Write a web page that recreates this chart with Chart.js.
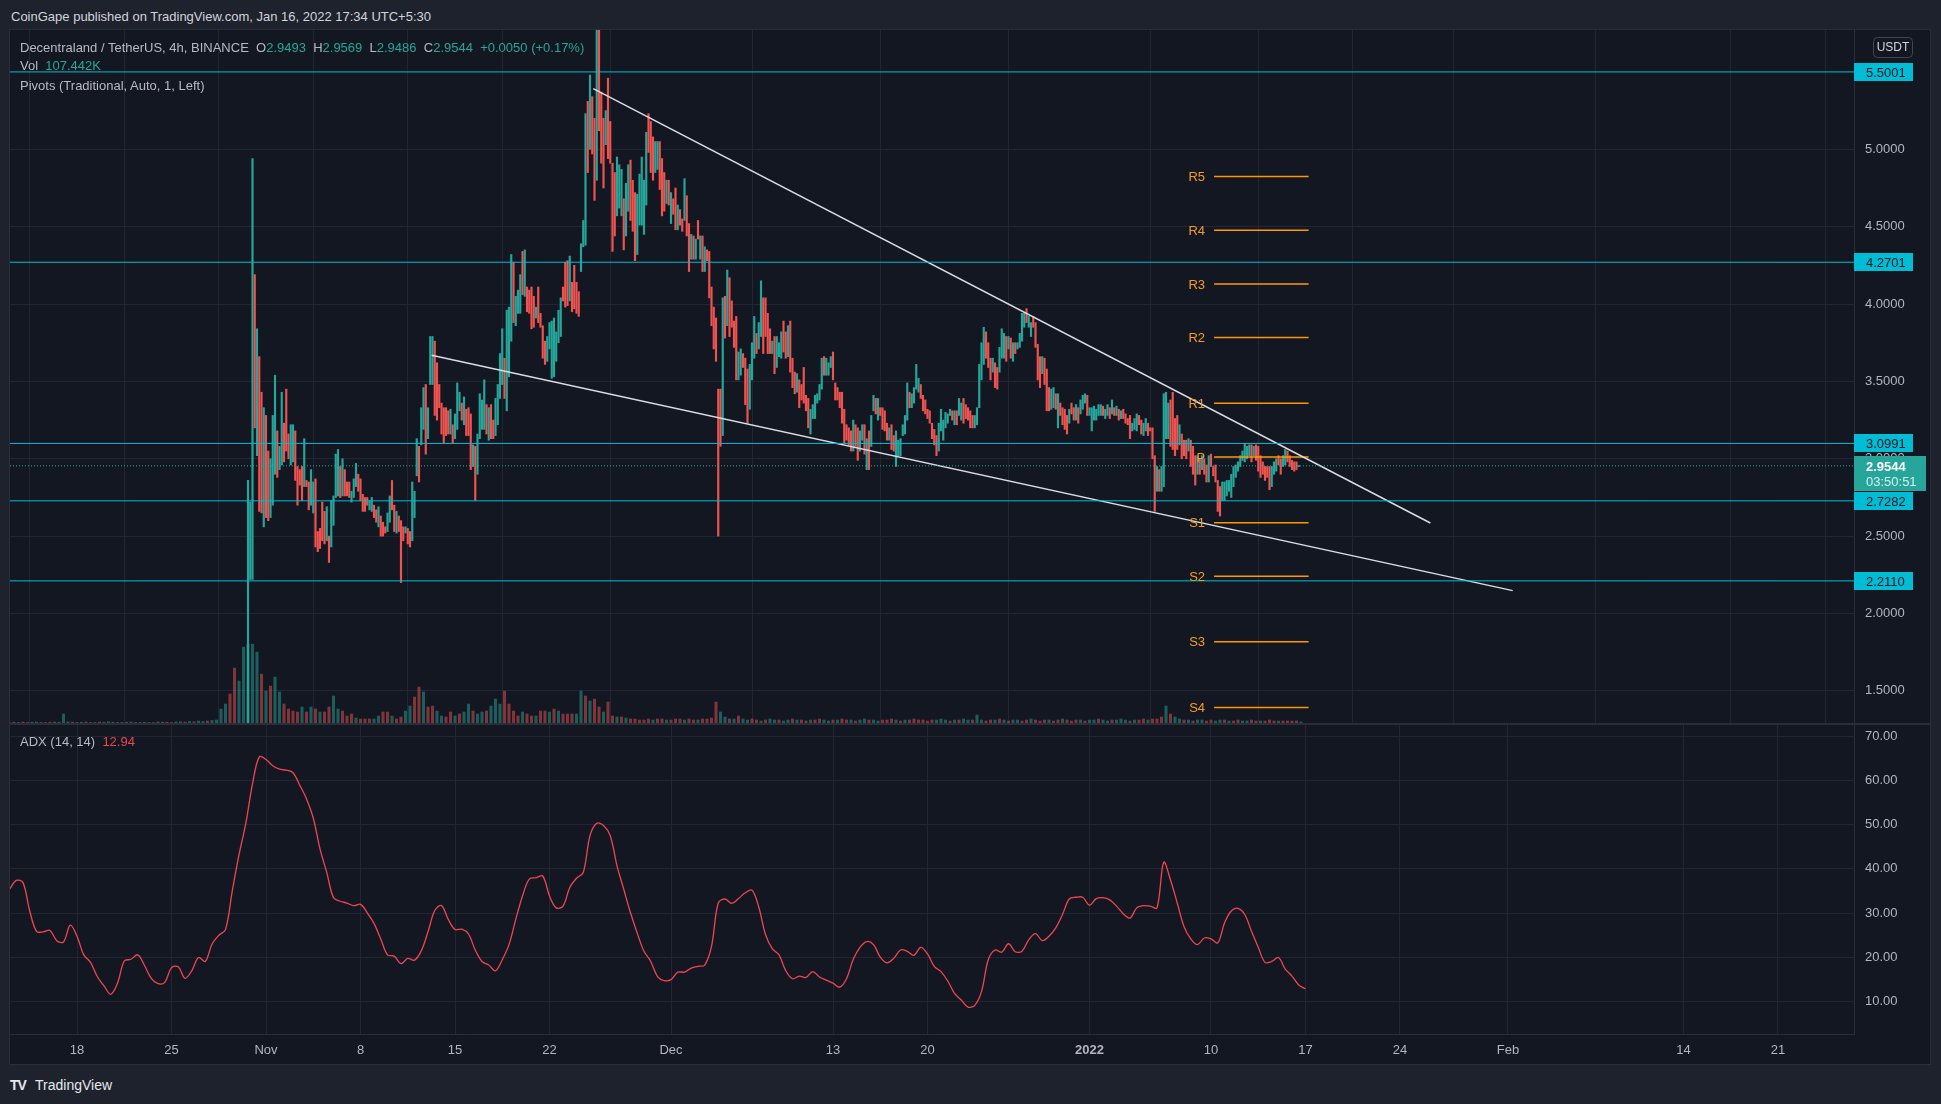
<!DOCTYPE html>
<html>
<head>
<meta charset="utf-8">
<script src="https://cdn.jsdelivr.net/npm/chart.js@4.4.1/dist/chart.umd.min.js"></script>
<style>
  body { margin: 0; width: 1941px; height: 1104px; overflow: hidden; background: #1e222d;
         font-family: "Liberation Sans", Arial, sans-serif; }
  canvas { position: absolute; left: 10px; background: #131722; }
  #priceCanvas { top: 30px; }
  #adxCanvas { top: 724px; }
  #frame { position: absolute; left: 9px; top: 29px; width: 1920px; height: 1034px; border: 1px solid #2a2e39; }
  #sep { position: absolute; left: 10px; top: 723px; width: 1920px; height: 2px; background: #2a2e39; }
  .t { position: absolute; white-space: pre; font-size: 13px; line-height: 16px; color: #b7bac3; }
  .up { color: #26a69a; }
  .red { color: #f0454f; }
</style>
</head>
<body>
<canvas id="priceCanvas" width="1920" height="694"></canvas>
<canvas id="adxCanvas" width="1920" height="340"></canvas>
<div id="frame"></div>
<div id="sep"></div>
<div class="t" style="left:11px;top:9px;color:#d1d4dc">CoinGape published on TradingView.com, Jan 16, 2022 17:34 UTC+5:30</div>
<div class="t" id="legendMain" style="left:20px;top:40px"></div>
<div class="t" id="legendVol" style="left:20px;top:58px"></div>
<div class="t" style="left:20px;top:78px">Pivots (Traditional, Auto, 1, Left)</div>
<div class="t" id="legendAdx" style="left:20px;top:734px"></div>
<div class="t" style="left:10px;top:1077px;color:#e6e8ee;font-size:14px;font-weight:bold;letter-spacing:-1px">TV</div>
<div class="t" style="left:35px;top:1077px;color:#e6e8ee;font-size:14px">TradingView</div>
<script>
// ---- time helpers (days since 18 Oct 2021, chart shown in UTC+5:30) ----
const DAY0 = Date.UTC(2021, 9, 18);
const toDay = s => (Date.parse(s + ':00Z') - DAY0) / 864e5;

// ---- axes ----
const viewFrom = '2021-10-13T00:53';
const viewTo = '2022-02-26T15:07';
const tickDates = ['2021-10-18T00:00', '2021-10-25T00:00', '2021-11-01T00:00', '2021-11-08T00:00',
  '2021-11-15T00:00', '2021-11-22T00:00', '2021-12-01T00:00', '2021-12-13T00:00', '2021-12-20T00:00',
  '2022-01-01T00:00', '2022-01-10T00:00', '2022-01-17T00:00', '2022-01-24T00:00', '2022-02-01T00:00',
  '2022-02-14T00:00', '2022-02-21T00:00'];
const tickLabels = ['18', '25', 'Nov', '8', '15', '22', 'Dec', '13', '20', '2022', '10', '17', '24', 'Feb', '14', '21'];
const priceTicks = [1.5, 2, 2.5, 3, 3.5, 4, 4.5, 5];
const priceMin = 1.286, priceMax = 5.771;
const adxTicks = [10, 20, 30, 40, 50, 60, 70];
const adxMin = 2.73, adxMax = 72.71;

// ---- MANA/USDT 4h candles (high, low, direction G=up R=down) ----
const candleStart = '2021-10-30T16:00';
const candleStepH = 4;
const candleHigh = [
  2.86,2.72,4.94,4.19,3.84,3.66,3.43,3.33,3.28,3.05,
  3.00,3.28,3.54,3.18,3.08,3.43,3.23,3.45,3.16,3.22,
  3.22,3.18,2.95,2.93,2.95,3.13,2.86,2.85,2.93,2.85,
  2.87,2.53,2.55,2.72,2.66,2.69,2.50,2.73,2.76,3.03,
  3.06,2.95,3.00,2.93,2.85,2.85,2.79,2.87,2.97,2.90,
  2.87,2.77,2.75,2.75,2.73,2.75,2.70,2.67,2.69,2.63,
  2.59,2.56,2.65,2.76,2.86,2.70,2.66,2.63,2.60,2.56,
  2.56,2.55,2.53,2.85,2.79,3.13,3.08,3.33,3.46,3.48,
  3.33,3.79,3.79,3.76,3.62,3.48,3.36,3.33,3.33,3.31,
  3.32,3.22,3.29,3.49,3.43,3.36,3.40,3.32,3.33,3.29,
  3.09,3.08,3.16,3.42,3.38,3.51,3.35,3.33,3.35,3.25,
  3.39,3.48,3.68,3.84,3.65,3.96,3.98,4.32,4.27,4.05,
  4.09,4.19,4.34,4.35,4.11,4.09,4.11,4.05,3.98,4.11,
  3.94,3.86,3.76,3.79,3.88,3.89,3.91,3.82,3.96,4.04,
  4.11,4.27,4.28,4.31,4.14,4.25,4.14,4.08,4.39,4.54,
  5.23,5.31,5.48,5.34,5.20,5.90,
  5.85,5.37,5.20,5.25,5.46,5.18,4.91,4.85,4.95,4.90,
  4.87,4.68,4.78,4.90,4.93,4.80,4.72,4.71,4.84,4.95,
  4.80,5.11,5.23,5.18,5.08,5.05,5.05,5.05,4.94,4.85,
  4.80,4.80,4.72,4.68,4.75,4.64,4.61,4.55,4.81,4.70,
  4.52,4.45,4.44,4.42,4.54,4.44,4.44,4.37,4.35,4.34,
  4.11,3.98,3.91,3.45,3.45,4.04,4.05,4.22,4.17,4.02,
  3.89,3.92,3.69,3.71,3.68,3.65,3.58,3.61,3.75,3.92,
  3.81,3.88,4.15,4.04,4.04,3.94,3.84,3.76,3.79,3.79,
  3.75,3.82,3.89,3.82,3.86,3.89,3.65,3.56,3.55,3.51,
  3.48,3.59,3.41,3.39,3.32,3.35,3.41,3.42,3.48,3.65,
  3.66,3.65,3.62,3.66,3.69,3.49,3.46,3.43,3.43,3.32,
  3.22,3.20,3.18,3.25,3.22,3.20,3.18,3.22,3.22,3.13,
  3.18,3.28,3.41,3.39,3.39,3.33,3.33,3.31,3.23,3.20,
  3.22,3.15,3.18,3.12,3.13,3.22,3.28,3.49,3.43,3.42,
  3.46,3.61,3.52,3.48,3.41,3.38,3.32,3.31,3.23,3.19,
  3.15,3.23,3.32,3.25,3.30,3.29,3.32,3.31,3.31,3.31,
  3.39,3.36,3.39,3.35,3.33,3.31,3.28,3.28,3.33,3.61,
  3.75,3.85,3.82,3.75,3.65,3.65,3.62,3.59,3.72,3.84,
  3.81,3.79,3.79,3.78,3.75,3.75,3.75,3.81,3.94,3.94,
  3.97,3.92,3.88,3.92,3.88,3.74,3.66,3.66,3.65,3.58,
  3.46,3.45,3.46,3.42,3.42,3.36,3.33,3.32,3.28,3.32,
  3.36,3.33,3.35,3.33,3.38,3.41,3.42,3.41,3.33,3.33,3.34,
  3.32,3.35,3.35,3.34,3.32,3.35,3.33,
  3.38,3.33,3.34,3.32,3.31,3.32,3.29,3.26,3.28,3.23,3.26,3.29,3.28,3.25,3.23,3.26,
  3.23,3.20,3.20,3.02,2.95,2.93,2.95,3.42,3.43,3.36,3.38,3.43,3.26,3.28,3.22,3.16,
  3.12,3.12,3.13,3.12,3.08,3.02,3.02,3.00,
  3.02,3.00,2.96,3.02,3.03,
  2.95,2.96,2.86,2.82,2.85,2.85,2.86,2.86,
  2.90,2.95,2.96,2.98,
  3.02,3.05,3.10,3.08,3.09,3.09,3.08,
  3.09,3.08,3.02,2.98,2.95,2.95,2.95,2.95,2.98,3.00,3.02,
  3.00,3.02,3.06,3.05,
  3.02,2.99,2.98,2.98,2.957
];
const candleLow = [
  1.10,2.22,2.22,3.20,3.02,2.66,2.65,2.56,2.62,2.60,
  2.62,2.70,2.90,2.88,2.93,2.96,2.98,3.05,3.00,2.96,
  2.98,2.86,2.70,2.83,2.73,2.82,2.82,2.67,2.70,2.65,
  2.43,2.40,2.42,2.47,2.45,2.47,2.33,2.43,2.57,2.75,
  2.76,2.75,2.76,2.76,2.76,2.75,2.72,2.75,2.82,2.79,
  2.73,2.66,2.66,2.70,2.67,2.66,2.62,2.59,2.56,2.50,
  2.50,2.52,2.53,2.59,2.67,2.53,2.52,2.53,2.20,2.47,
  2.52,2.45,2.43,2.47,2.62,2.89,2.85,3.09,3.19,3.03,
  3.13,3.48,3.48,3.28,3.25,3.33,3.16,3.10,3.15,3.16,
  3.16,3.10,3.13,3.19,3.31,3.25,3.22,3.15,3.15,2.93,
  2.95,2.73,2.90,3.13,3.19,3.19,3.16,3.12,3.13,3.13,
  3.15,3.22,3.39,3.48,3.39,3.31,3.53,3.76,3.88,3.86,
  3.94,3.94,4.06,4.05,3.95,3.94,3.84,3.85,3.91,3.88,
  3.85,3.65,3.61,3.63,3.71,3.52,3.53,3.63,3.75,3.79,
  4.02,3.98,3.99,4.02,3.95,3.97,3.94,3.92,4.21,4.37,
  4.38,4.85,5.00,4.97,4.67,4.80,
  5.12,4.91,4.75,5.03,4.94,4.91,4.34,4.44,4.57,4.62,
  4.57,4.35,4.44,4.60,4.54,4.47,4.28,4.32,4.51,4.51,
  4.45,4.64,4.98,4.85,4.80,4.85,4.87,4.74,4.57,4.60,
  4.65,4.64,4.52,4.58,4.48,4.48,4.51,4.47,4.54,4.44,
  4.21,4.29,4.29,4.29,4.42,4.29,4.21,4.21,4.28,4.04,
  3.86,3.71,3.63,2.50,3.08,3.15,3.78,3.86,3.79,3.85,
  3.72,3.51,3.51,3.54,3.59,3.35,3.23,3.32,3.51,3.65,
  3.68,3.71,3.79,3.68,3.79,3.68,3.68,3.68,3.55,3.59,
  3.66,3.65,3.69,3.65,3.66,3.56,3.46,3.42,3.43,3.33,
  3.38,3.36,3.31,3.20,3.16,3.26,3.26,3.36,3.38,3.45,
  3.54,3.54,3.54,3.59,3.51,3.38,3.38,3.33,3.23,3.10,
  3.12,3.09,3.05,3.05,3.08,2.99,3.05,3.12,3.03,2.93,
  2.93,3.08,3.31,3.29,3.25,3.28,3.19,3.18,3.12,3.12,
  3.06,3.05,2.95,3.02,3.02,3.15,3.16,3.25,3.33,3.33,
  3.36,3.45,3.43,3.39,3.31,3.29,3.26,3.23,3.13,3.09,
  3.02,3.05,3.18,3.12,3.20,3.23,3.28,3.25,3.22,3.22,
  3.28,3.25,3.23,3.26,3.25,3.20,3.20,3.20,3.22,3.33,
  3.51,3.61,3.65,3.59,3.51,3.56,3.46,3.45,3.56,3.65,
  3.65,3.63,3.71,3.65,3.63,3.68,3.71,3.72,3.76,3.85,
  3.88,3.85,3.79,3.85,3.72,3.51,3.46,3.55,3.48,3.31,
  3.31,3.32,3.33,3.32,3.20,3.28,3.22,3.19,3.16,3.23,
  3.29,3.25,3.25,3.23,3.29,3.32,3.36,3.28,3.28,3.18,3.25,
  3.25,3.28,3.28,3.28,3.26,3.28,3.26,
  3.29,3.28,3.28,3.25,3.26,3.26,3.23,3.22,3.13,3.18,3.19,3.18,3.22,3.16,3.15,3.18,
  3.15,3.18,3.00,2.66,2.79,2.79,2.79,2.82,3.13,3.13,3.08,3.06,3.02,3.06,3.09,3.00,
  3.02,3.00,3.05,2.95,2.90,2.83,2.90,2.90,
  2.93,2.90,2.85,2.85,2.95,
  2.89,2.85,2.66,2.63,2.73,2.73,2.76,2.79,
  2.75,2.82,2.88,2.92,
  2.95,2.99,2.98,3.00,3.02,2.98,3.02,
  2.99,2.92,2.88,2.90,2.86,2.88,2.80,2.82,2.90,2.92,2.96,
  2.90,2.95,2.96,2.98,
  2.95,2.93,2.92,2.93,2.949
];
const candleDir =
  'GGGRGRRGRR' + 'GGGRGGRRRG' + 'GRRRRGRRGG' + 'RRRRRGRGGG' + 'GRGRRRGGGR' + 'RRRRGGRRGR' +
  'RRGGRRGRRR' + 'GRRGGGRGGR' + 'GGGRRRRRRR' + 'GRGGGRGRRR' + 'GRGGGGRGRR' + 'GGGGRGGGRG' +
  'GGRGRRRRGR' + 'RRRGGGGGGG' + 'RRRGRRRRGG' + 'GRGRRG' +
  'RRRGRRRRGG' + 'GRGGRRRGGG' + 'GGRRRGGRRR' + 'GRGRRGRRGR' + 'RGRGRGRGRR' + 'RRRRRGRGRR' +
  'RRGGRRRGGG' + 'RGGRRRRGRG' + 'GGRRGRRRGR' + 'RRRRGGG' + 'GGGRG' + 'GGRRRRRRRRRGRRGG' +
  'RGRGGRGRRRRGRRG' + 'GGGGGRGGGGRRRRRRRRGGGGGGRGR' +
  'GGRRRRRGGG' + 'GGRRRGRRGG' + 'GRGRGRGGGG' + 'RGGRRRRGRR' + 'RGGRGRRRRG' + 'RRGRGGGRGGG' +
  'GGGRGGR' + 'GRGRGRRRRGGGRRGG' + 'RRRRGRGGGGRRRRGR' + 'RRGRRRGR' + 'GRRGR' + 'RRRRGGGG' +
  'GGGG' + 'GGGGGRG' + 'RRRRRRRGGGR' + 'RGGR' + 'RRRRG';
const lastOHLC = [2.9493, 2.9569, 2.9486, 2.9544];
const lastChange = '+0.0050 (+0.17%)';
const lastVolume = '107.442K';
const countdown = '03:50:51';

// ---- volume, 8h buckets (millions) ----
const volStart = '2021-10-13T00:00';
const volStepH = 8;
const volumes = [
  1.5,1.8,1.5,2,1.5,1.8,2,1.5,1.5,1.8,2,1.8,
  10,
  2,1.8,1.5,1.8,2,1.5,1.5,2,1.8,2.2,1.8,
  1.5,1.5,1.8,2,1.5,1.5,1.8,1.5,1.5,2,2,1.8,1.5,2,2.2,2,
  2.5,2.2,3,2.5,3,3.5,4,
  15,20,30,56,43,77,80,80,72,50,33,38,47,32,20,15,
  13,12,17,12,17,15,12,12,17,28,15,13,8,
  10,6,5,5,5,5,8,12,12,8,5,7,13,18,
  27,37,32,17,18,13,8,7,12,8,10,12,20,13,10,12,13,18,25,20,33,20,
  13,8,12,10,8,8,13,13,12,15,13,10,10,
  10,10,33,28,23,25,17,12,22,8,7,7,6,5,
  5,4,4,5,4,5,5,4,4,5,5,4,5,4,4,5,5,6,
  22,12,7,5,5,8,5,
  4,5,4,3,4,5,4,4,3,4, 5,4,4,3,4,4,5,4,3,4, 4,5,4,4,3,4,5,4,4,3,
  4,4,5,4,3,4,4,5,4,4, 3,4,4,5,4,3,4,4,5,4, 4,
  9,
  4,3,4,4,5,4,3,4,4,3, 4,5,4,3,4,4,3,4,5,4, 3,4,4,3,4,4,5,4,3,4, 4,5,4,3,4,4,5,4,5,5,
  7,18,10,7,5,
  4,4,3,4,4,3,4,3,4,4, 3,3,4,3,3,4,3,3,3,4, 3,3,3,3,3,3,2
];
const volDir =
  'GRGRRGGRGR' + 'GRGGRRGRGR' + 'RGGRGRGGRR' + 'GRGRGRRGGR' + 'GRGGRGG' +
  'GGRRGGGGGRGRGGRR' + 'RRGRGRGRRGGRR' + 'RGRRRGGRRGRRGG' + 'RRGRRGGRRGRGGRGGRGGGRR' +
  'RRGRRGRRGRGRR' + 'RGGRGRRGRRGRGR' + 'RRRRGRRGRRRGRRGRRR' + 'RGGRGRG' +
  'GRRGRGGRGG' + 'RGRRGRRGGR' + 'GRRGRGGRGG' + 'RRRGRGRRRR' + 'RRGGGRGRGG' + 'R' +
  'G' + 'GRRGRGRGGR' + 'RGRRRGRRGR' + 'RRGRGGRGGR' + 'GGGRGRRGRR' +
  'RGRGG' + 'RGRGGRRGGR' + 'GRRGGRRGRR' + 'RGRRRRG';

// ---- ADX (14, 14), sampled every 12h ----
const adxStart = '2021-10-13T00:00';
const adxStepH = 12;
const adxValues = [
  35.4,37.4,36.9,30.5,25.9,25.8,26.1,23.8,23.5,27.3,
  24.8,20.6,18.9,15.7,13.6,11.7,14.2,19.2,19.6,20.6,
  18.2,15.3,14.1,14.4,17.7,17.9,15.3,17.0,20.0,19.1,
  23.0,25.0,26.3,35.0,43.2,50.2,59.2,65.3,64.7,63.3,
  62.5,62.3,61.7,58.9,55.8,51.5,44.5,39.2,33.5,32.7,
  32.3,31.7,32.0,30.1,27.7,24.2,20.6,20.3,18.6,19.8,
  19.4,21.5,25.8,30.6,31.7,28.6,26.3,26.4,25.3,21.7,
  19.1,18.3,17.0,19.5,22.9,28.6,33.9,37.7,38.0,38.4,
  33.9,31.2,31.6,35.8,37.9,39.2,47.5,50.3,49.8,47.5,
  40.7,35.4,30.1,25.5,21.4,19.1,15.7,14.8,15.0,16.7,
  16.7,17.6,18.0,18.3,22.5,32.3,33.2,32.2,33.3,34.6,
  35.2,31.4,25.2,22.0,20.6,17.0,15.2,15.8,15.5,16.8,
  15.6,14.9,14.2,13.3,15.2,19.6,22.3,23.6,22.9,20.1,
  18.8,19.8,21.7,21.4,20.5,22.3,20.8,18.0,16.8,14.7,
  11.9,10.4,8.8,9.2,12.3,19.5,21.7,21.2,23.1,21.3,
  21.4,24.0,25.4,23.8,24.8,26.7,29.7,33.2,33.6,33.6,
  31.8,33.3,33.5,33.0,31.6,29.9,28.9,31.2,31.7,31.6,
  31.2,41.5,37.5,32.3,27.0,24.2,22.9,24.4,24.2,23.3,
  27.8,30.5,31.1,29.7,25.9,22.3,18.9,19.1,20.0,17.4,
  15.8,13.8,12.94
];

// ---- drawings ----
const levelValues = [5.5001, 4.2701, 3.0991, 2.7282, 2.2110];
const upperTrend = [['2021-11-25T05:46', 5.392], ['2022-01-26T06:00', 2.585]];
const lowerTrend = [['2021-11-13T06:29', 3.669], ['2022-02-01T08:24', 2.148]];
const pivotFrom = '2022-01-10T05:30';
const pivotTo = '2022-01-17T05:30';
const pivotNames = ['R5', 'R4', 'R3', 'R2', 'R1', 'P', 'S1', 'S2', 'S3', 'S4'];
const pivotLevels = [4.824, 4.477, 4.130, 3.784, 3.359, 3.012, 2.587, 2.241, 1.817, 1.393];

// ---- style ----
const FONT = '"Liberation Sans", Arial, sans-serif';
const UP = '#26a69a', DOWN = '#ef5350';
const CYAN = '#00bcd4', ORANGE = '#ff9800', ADX_RED = '#f0454f';
const GRID = '#222632', AXIS = '#2a2e39', TEXT = '#b2b5be';
Chart.defaults.font.family = FONT;
Chart.defaults.font.size = 13;

const xMin = toDay(viewFrom), xMax = toDay(viewTo);
const tickDays = tickDates.map(toDay);

// legend text
document.getElementById('legendMain').innerHTML =
  'Decentraland / TetherUS, 4h, BINANCE  ' +
  ['O', 'H', 'L', 'C'].map((k, i) => k + '<span class="up">' + lastOHLC[i].toFixed(4) + '</span>').join('  ') +
  '  <span class="up">' + lastChange + '</span>';
document.getElementById('legendVol').innerHTML = 'Vol  <span class="up">' + lastVolume + '</span>';
document.getElementById('legendAdx').innerHTML =
  'ADX (14, 14)  <span class="red">' + adxValues[adxValues.length - 1].toFixed(2) + '</span>';

const nCandles = Math.min(candleHigh.length, candleLow.length, candleDir.length);
const c0 = toDay(candleStart);
const candleData = [], candleColors = [];
for (let i = 0; i < nCandles; i++) {
  candleData.push({ x: c0 + i * candleStepH / 24, y: [candleLow[i], candleHigh[i]] });
  candleColors.push(candleDir[i] === 'G' ? UP : DOWN);
}
const v0 = toDay(volStart);
const volData = volumes.map((v, j) => ({ x: v0 + j * volStepH / 24, y: v }));
const volColors = volumes.map((_, j) => volDir[j] === 'G' ? 'rgba(38,166,154,0.5)' : 'rgba(239,83,80,0.5)');
const a0 = toDay(adxStart);
const adxData = adxValues.map((v, k) => ({ x: a0 + k * adxStepH / 24, y: v }));

const lineSet = (pts, color, width, dash) => ({
  type: 'line', data: pts, borderColor: color, borderWidth: width, borderDash: dash || [],
  pointRadius: 0, tension: 0, yAxisID: 'y', order: 0
});

const datasets = [
  { type: 'bar', data: volData, backgroundColor: volColors, barThickness: 2.4, grouped: false, yAxisID: 'vol', order: 3 },
  { type: 'bar', data: candleData, backgroundColor: candleColors, barThickness: 1.5, grouped: false, yAxisID: 'y', order: 2 }
];
levelValues.forEach(v => datasets.push(lineSet([{ x: xMin, y: v }, { x: xMax, y: v }], CYAN, 1)));
datasets.push(lineSet([{ x: xMin, y: lastOHLC[3] }, { x: xMax, y: lastOHLC[3] }], UP, 1, [1, 2]));
[upperTrend, lowerTrend].forEach(t =>
  datasets.push(lineSet(t.map(p => ({ x: toDay(p[0]), y: p[1] })), '#d9dce3', 1.5)));
pivotLevels.forEach(v =>
  datasets.push(lineSet([{ x: toDay(pivotFrom), y: v }, { x: toDay(pivotTo), y: v }], ORANGE, 1.5)));

const fixedTicks = list => scale => { scale.ticks = list.map(v => ({ value: v })); };
// right-hand value axis: fixed width, no extra vertical padding for the labels
const rightAxisFit = s => { s.width = 76; s.paddingTop = 0; s.paddingBottom = 0; };

const priceOverlay = {
  id: 'priceOverlay',
  afterDraw(chart) {
    const { ctx, chartArea: a, scales: { x, y } } = chart;
    ctx.save();
    ctx.textBaseline = 'middle';
    ctx.font = '13px ' + FONT;
    // pivot labels
    ctx.fillStyle = '#f39c24';
    ctx.textAlign = 'right';
    const lx = x.getPixelForValue(toDay(pivotFrom)) - 9;
    pivotNames.forEach((n, i) => ctx.fillText(n, lx, y.getPixelForValue(pivotLevels[i]) + 1));
    // level tags on price axis
    ctx.textAlign = 'left';
    levelValues.forEach(v => {
      const py = Math.round(y.getPixelForValue(v));
      ctx.fillStyle = CYAN;
      ctx.fillRect(a.right, py - 9, 59, 18);
      ctx.fillStyle = '#131722';
      ctx.fillText(v.toFixed(4), a.right + 12, py + 1);
    });
    // last price tag
    const ly = Math.round(y.getPixelForValue(lastOHLC[3]));
    ctx.fillStyle = UP;
    ctx.fillRect(a.right, ly - 10, 72, 35);
    ctx.fillStyle = '#ffffff';
    ctx.font = 'bold 13px ' + FONT;
    ctx.fillText(lastOHLC[3].toFixed(4), a.right + 12, ly + 1);
    ctx.font = '13px ' + FONT;
    ctx.fillStyle = '#d7f0ec';
    ctx.fillText(countdown, a.right + 12, ly + 16);
    // currency badge
    ctx.strokeStyle = '#434651';
    ctx.lineWidth = 1;
    ctx.beginPath();
    ctx.roundRect(a.right + 19.5, 7.5, 39, 20, 4);
    ctx.stroke();
    ctx.fillStyle = '#d1d4dc';
    ctx.font = '12px ' + FONT;
    ctx.textAlign = 'center';
    ctx.fillText('USDT', a.right + 39, 18);
    ctx.restore();
  }
};

new Chart(document.getElementById('priceCanvas'), {
  type: 'bar',
  data: { datasets },
  options: {
    responsive: false,
    animation: false,
    events: [],
    layout: { padding: 0 },
    plugins: { legend: { display: false }, tooltip: { enabled: false } },
    scales: {
      x: {
        type: 'linear', min: xMin, max: xMax, offset: false,
        afterBuildTicks: fixedTicks(tickDays),
        afterFit: s => { s.height = 0; },
        ticks: { display: false },
        grid: { color: GRID, drawTicks: false },
        border: { display: false }
      },
      y: {
        position: 'right', min: priceMin, max: priceMax,
        afterBuildTicks: fixedTicks(priceTicks),
        afterFit: rightAxisFit,
        ticks: { color: TEXT, padding: 11, callback: v => v.toFixed(4) },
        grid: { color: GRID, drawTicks: false },
        border: { color: AXIS }
      },
      vol: { display: false, min: 0, max: Math.max(...volumes) / 0.115 }
    }
  },
  plugins: [priceOverlay]
});

new Chart(document.getElementById('adxCanvas'), {
  type: 'line',
  data: {
    datasets: [{
      data: adxData, borderColor: ADX_RED, borderWidth: 1.3, pointRadius: 0, tension: 0.35
    }]
  },
  options: {
    responsive: false,
    animation: false,
    events: [],
    layout: { padding: 0 },
    plugins: { legend: { display: false }, tooltip: { enabled: false } },
    scales: {
      x: {
        type: 'linear', min: xMin, max: xMax,
        afterBuildTicks: fixedTicks(tickDays),
        afterFit: s => { s.height = 30; },
        ticks: {
          color: TEXT, padding: 9, autoSkip: false, maxRotation: 0,
          callback: (v, i) => tickLabels[i],
          font: c => ({ size: 13, weight: c.tick && c.tick.label === '2022' ? 'bold' : 'normal' })
        },
        grid: { color: GRID, drawTicks: false },
        border: { color: AXIS }
      },
      y: {
        position: 'right', min: adxMin, max: adxMax,
        afterBuildTicks: fixedTicks(adxTicks),
        afterFit: rightAxisFit,
        ticks: { color: TEXT, padding: 11, callback: v => v.toFixed(2) },
        grid: { color: GRID, drawTicks: false },
        border: { color: AXIS }
      }
    }
  }
});
</script>
</body>
</html>
